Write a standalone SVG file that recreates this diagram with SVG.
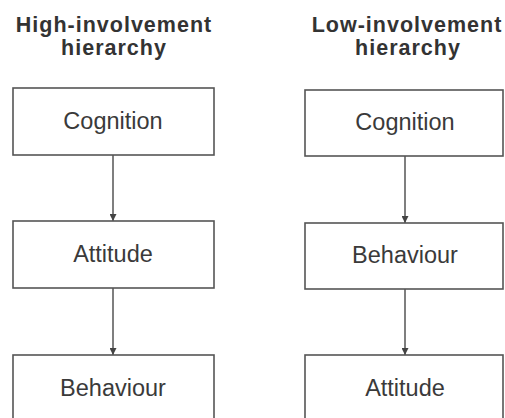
<svg xmlns="http://www.w3.org/2000/svg" width="505" height="418" viewBox="0 0 505 418">
<defs>
<style>
.box{fill:#fff;stroke:#555;stroke-width:1.6}
.t{font-family:"Liberation Sans",Arial,sans-serif;font-size:23.5px;fill:#3a3a3a;text-anchor:middle}
.h{font-family:"Liberation Sans",Arial,sans-serif;font-size:21.5px;font-weight:bold;fill:#333;text-anchor:middle;letter-spacing:1px}
.c{stroke:#555;stroke-width:1.5;fill:none;marker-end:url(#ah)}
</style>
<marker id="ah" viewBox="0 0 8 8" refX="8" refY="4" markerWidth="7" markerHeight="7" markerUnits="userSpaceOnUse" orient="auto">
<path d="M0,0 L8,4 L0,8 Z" fill="#444"/>
</marker>
</defs>
<rect width="505" height="418" fill="#fff"/>
<g id="title-left"><text class="h" x="114" y="32">High-involvement</text><text class="h" x="114" y="55">hierarchy</text></g>
<g id="title-right"><text class="h" x="407" y="32">Low-involvement</text><text class="h" x="408" y="55">hierarchy</text></g>
<g id="connectors">
<line class="c" x1="113" y1="155" x2="113" y2="221"/>
<line class="c" x1="113" y1="288" x2="113" y2="355"/>
<line class="c" x1="405" y1="156" x2="405" y2="223"/>
<line class="c" x1="405" y1="289" x2="405" y2="355"/>
</g>
<g id="l-cognition"><rect class="box" x="13" y="88" width="201" height="67"/><text class="t" x="113" y="129">Cognition</text></g>
<g id="l-attitude"><rect class="box" x="13" y="221" width="201" height="67"/><text class="t" x="113" y="262">Attitude</text></g>
<g id="l-behaviour"><rect class="box" x="13" y="355" width="201" height="80"/><text class="t" x="113" y="396">Behaviour</text></g>
<g id="r-cognition"><rect class="box" x="305" y="90" width="198" height="66"/><text class="t" x="405" y="130">Cognition</text></g>
<g id="r-behaviour"><rect class="box" x="305" y="223" width="198" height="66"/><text class="t" x="405" y="263">Behaviour</text></g>
<g id="r-attitude"><rect class="box" x="305" y="355" width="198" height="80"/><text class="t" x="405" y="396">Attitude</text></g>
</svg>
